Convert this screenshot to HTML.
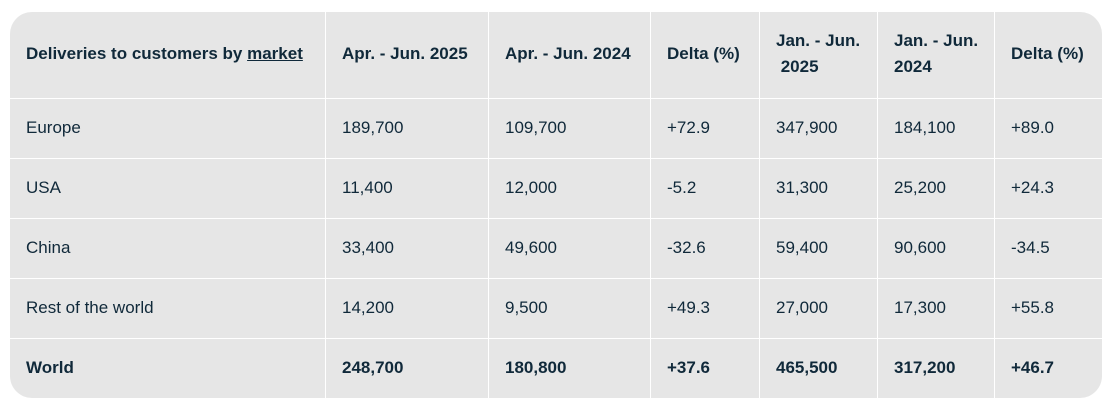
<!DOCTYPE html>
<html><head><style>
body{margin:0;width:1119px;height:409px;background:#fff;font-family:"Liberation Sans",sans-serif;color:#10293a;overflow:hidden}
.t{position:absolute;left:10px;top:12px;width:1092px;height:386px;background:#e6e6e6;border-radius:22px;overflow:hidden}
.v{position:absolute;top:0;bottom:0;width:1px;background:#fff}
.h{position:absolute;left:0;right:0;height:1px;background:#fff}
.c{position:absolute;font-size:17px;line-height:26px;white-space:nowrap}
.b{font-weight:bold}
</style></head><body>
<div class="t">
<div class="v" style="left:315px"></div><div class="v" style="left:478px"></div><div class="v" style="left:640px"></div><div class="v" style="left:749px"></div><div class="v" style="left:867px"></div><div class="v" style="left:984px"></div>
<div class="h" style="top:86px"></div><div class="h" style="top:146px"></div><div class="h" style="top:206px"></div><div class="h" style="top:266px"></div><div class="h" style="top:326px"></div>
<div class="c b" style="left:16px;top:29px">Deliveries to customers by <u>market</u></div>
<div class="c b" style="left:332px;top:29px">Apr. - Jun. 2025</div>
<div class="c b" style="left:495px;top:29px">Apr. - Jun. 2024</div>
<div class="c b" style="left:657px;top:29px">Delta (%)</div>
<div class="c b" style="left:766px;top:16px">Jan. - Jun.<br>&nbsp;2025</div>
<div class="c b" style="left:884px;top:16px">Jan. - Jun.<br>2024</div>
<div class="c b" style="left:1001px;top:29px">Delta (%)</div>

<div class="c" style="left:16px;top:103px">Europe</div><div class="c" style="left:332px;top:103px">189,700</div><div class="c" style="left:495px;top:103px">109,700</div><div class="c" style="left:657px;top:103px">+72.9</div><div class="c" style="left:766px;top:103px">347,900</div><div class="c" style="left:884px;top:103px">184,100</div><div class="c" style="left:1001px;top:103px">+89.0</div>
<div class="c" style="left:16px;top:163px">USA</div><div class="c" style="left:332px;top:163px">11,400</div><div class="c" style="left:495px;top:163px">12,000</div><div class="c" style="left:657px;top:163px">-5.2</div><div class="c" style="left:766px;top:163px">31,300</div><div class="c" style="left:884px;top:163px">25,200</div><div class="c" style="left:1001px;top:163px">+24.3</div>
<div class="c" style="left:16px;top:223px">China</div><div class="c" style="left:332px;top:223px">33,400</div><div class="c" style="left:495px;top:223px">49,600</div><div class="c" style="left:657px;top:223px">-32.6</div><div class="c" style="left:766px;top:223px">59,400</div><div class="c" style="left:884px;top:223px">90,600</div><div class="c" style="left:1001px;top:223px">-34.5</div>
<div class="c" style="left:16px;top:283px">Rest of the world</div><div class="c" style="left:332px;top:283px">14,200</div><div class="c" style="left:495px;top:283px">9,500</div><div class="c" style="left:657px;top:283px">+49.3</div><div class="c" style="left:766px;top:283px">27,000</div><div class="c" style="left:884px;top:283px">17,300</div><div class="c" style="left:1001px;top:283px">+55.8</div>
<div class="c b" style="left:16px;top:343px">World</div><div class="c b" style="left:332px;top:343px">248,700</div><div class="c b" style="left:495px;top:343px">180,800</div><div class="c b" style="left:657px;top:343px">+37.6</div><div class="c b" style="left:766px;top:343px">465,500</div><div class="c b" style="left:884px;top:343px">317,200</div><div class="c b" style="left:1001px;top:343px">+46.7</div>
</div>
</body></html>
